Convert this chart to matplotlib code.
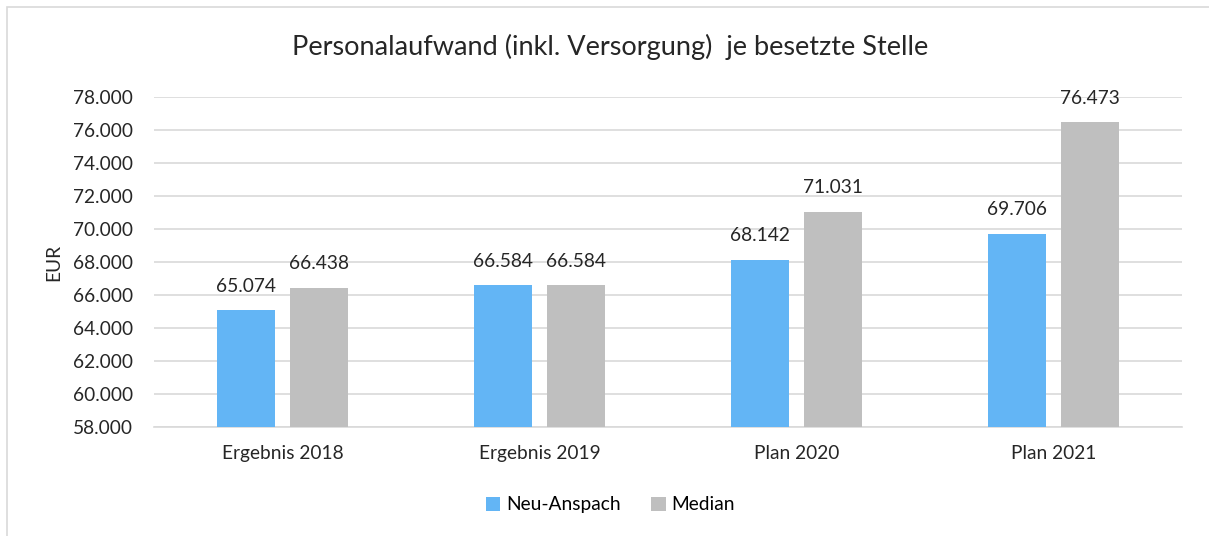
import numpy as np
import matplotlib.pyplot as plt
from matplotlib.patches import Rectangle
from matplotlib.ticker import FuncFormatter

categories = ['Ergebnis 2018', 'Ergebnis 2019', 'Plan 2020', 'Plan 2021']
neu_anspach = [65074, 66584, 68142, 69706]
median = [66438, 66584, 71031, 76473]

plt.rcParams['font.family'] = ['Lato', 'DejaVu Sans']


def de_fmt(v, pos=None):
    return f"{v:,.0f}".replace(',', '.')


fig = plt.figure(figsize=(12.09, 5.36), dpi=100)
ax = fig.add_axes([0.1274, 0.2034, 0.8503, 0.6156])

# light frame around the chart (only left/top visible in reference)
fig.patches.append(Rectangle((7 / 1209, -0.1), 1.5, 1 - 7 / 536 + 0.1,
                             transform=fig.transFigure, fill=False,
                             edgecolor='#d9d9d9', linewidth=1.2))

x = np.arange(len(categories))
w = 0.225
off = 0.142
b1 = ax.bar(x - off, neu_anspach, w, color='#63b5f5', label='Neu-Anspach', zorder=3)
b2 = ax.bar(x + off, median, w, color='#bfbfbf', label='Median', zorder=3)

for bars in (b1, b2):
    for r in bars:
        ax.text(r.get_x() + r.get_width() / 2, r.get_height() + 950,
                de_fmt(r.get_height()), ha='center', va='bottom',
                fontsize=13.8, color='#262626')

ax.set_ylim(58000, 78000)
ax.set_xlim(-0.5, len(categories) - 0.5)
ax.set_yticks(np.arange(58000, 78001, 2000))
ax.yaxis.set_major_formatter(FuncFormatter(de_fmt))
ax.set_xticks(x)
ax.set_xticklabels(categories)
ax.tick_params(axis='both', length=0, labelsize=13.8, colors='#262626')
ax.tick_params(axis='x', pad=13)
ax.tick_params(axis='y', pad=15)
ax.grid(axis='y', color='#d9d9d9', linewidth=1.2, zorder=0)
for s in ('top', 'right', 'left'):
    ax.spines[s].set_visible(False)
ax.spines['bottom'].set_color('#d9d9d9')
ax.spines['bottom'].set_linewidth(1.2)

ax.set_ylabel('EUR', fontsize=13.8, color='#262626', labelpad=8)

fig.text(0.505, 0.912, 'Personalaufwand (inkl. Versorgung)  je besetzte Stelle',
         ha='center', va='center', fontsize=19.5, color='#262626')

fig.legend(loc='center', bbox_to_anchor=(0.505, 0.058), ncol=2, frameon=False,
           fontsize=13.8, handlelength=0.75, handleheight=0.75, handletextpad=0.3,
           columnspacing=1.6)

fig.savefig('out.png', dpi=100)
